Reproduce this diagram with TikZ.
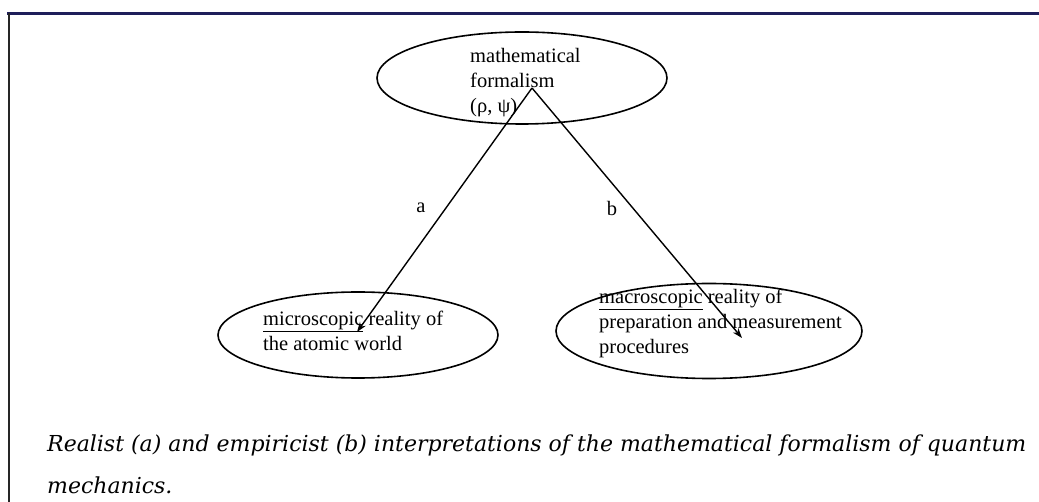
\documentclass[tikz,border=0pt]{standalone}
\usepackage{fontspec}
\setmainfont{Liberation Serif}
\newfontfamily\capfont{DejaVu Serif}
\usetikzlibrary{shapes.geometric,arrows.meta}
\definecolor{framenavy}{RGB}{30,30,90}
\begin{document}
\begin{tikzpicture}[x=1pt,y=-1pt,
  oval/.style={draw,ellipse,line width=1.6pt,inner sep=0pt},
  txt/.style={anchor=west,align=left,inner sep=0pt,font=\fontsize{20.5}{25}\selectfont},
  conn/.style={line width=1.4pt,-{Stealth[length=10pt,width=7pt]}},
  lbl/.style={inner sep=0pt,font=\fontsize{20.5}{25}\selectfont},
  captxt/.style={anchor=base west,inner sep=0pt,font=\capfont\itshape\fontsize{22}{28}\selectfont}]
\useasboundingbox (0,0) rectangle (1039,502);
\fill[white] (0,0) rectangle (1039,502);
% frame
\draw[framenavy,line width=3pt] (7,13.5) -- (1039,13.5);
\draw[black!85,line width=2pt] (8.5,13) -- (8.5,502);
% ellipses
\node[oval,minimum width=290pt,minimum height=92pt] (top) at (522,78) {};
\node[oval,minimum width=280pt,minimum height=86pt] (left) at (358,335) {};
\node[oval,minimum width=306pt,minimum height=95pt] (right) at (709,331) {};
% texts
\node[txt] (toptxt) at (470,83) {mathematical\\formalism\\(ρ, ψ)};
\node[txt] (lefttxt) at (263,331) {\underline{microscopic} reality of\\the atomic world};
\node[txt] (righttxt) at (599,323) {\underline{macroscopic} reality of\\preparation and measurement\\procedures};
% connectors
\coordinate (apex) at (532,88);
\coordinate (aend) at (357,332);
\coordinate (bend) at (742,338);
\draw[conn] (apex) -- (aend);
\draw[conn] (apex) -- (bend);
\node[lbl] (la) at (421,208) {a};
\node[lbl] (lb) at (612,208) {b};
% caption
\node[captxt] (cap1) at (47,452) {Realist (a) and empiricist (b) interpretations of the mathematical formalism of quantum};
\node[captxt] (cap2) at (47,493) {mechanics.};
\end{tikzpicture}
\end{document}
